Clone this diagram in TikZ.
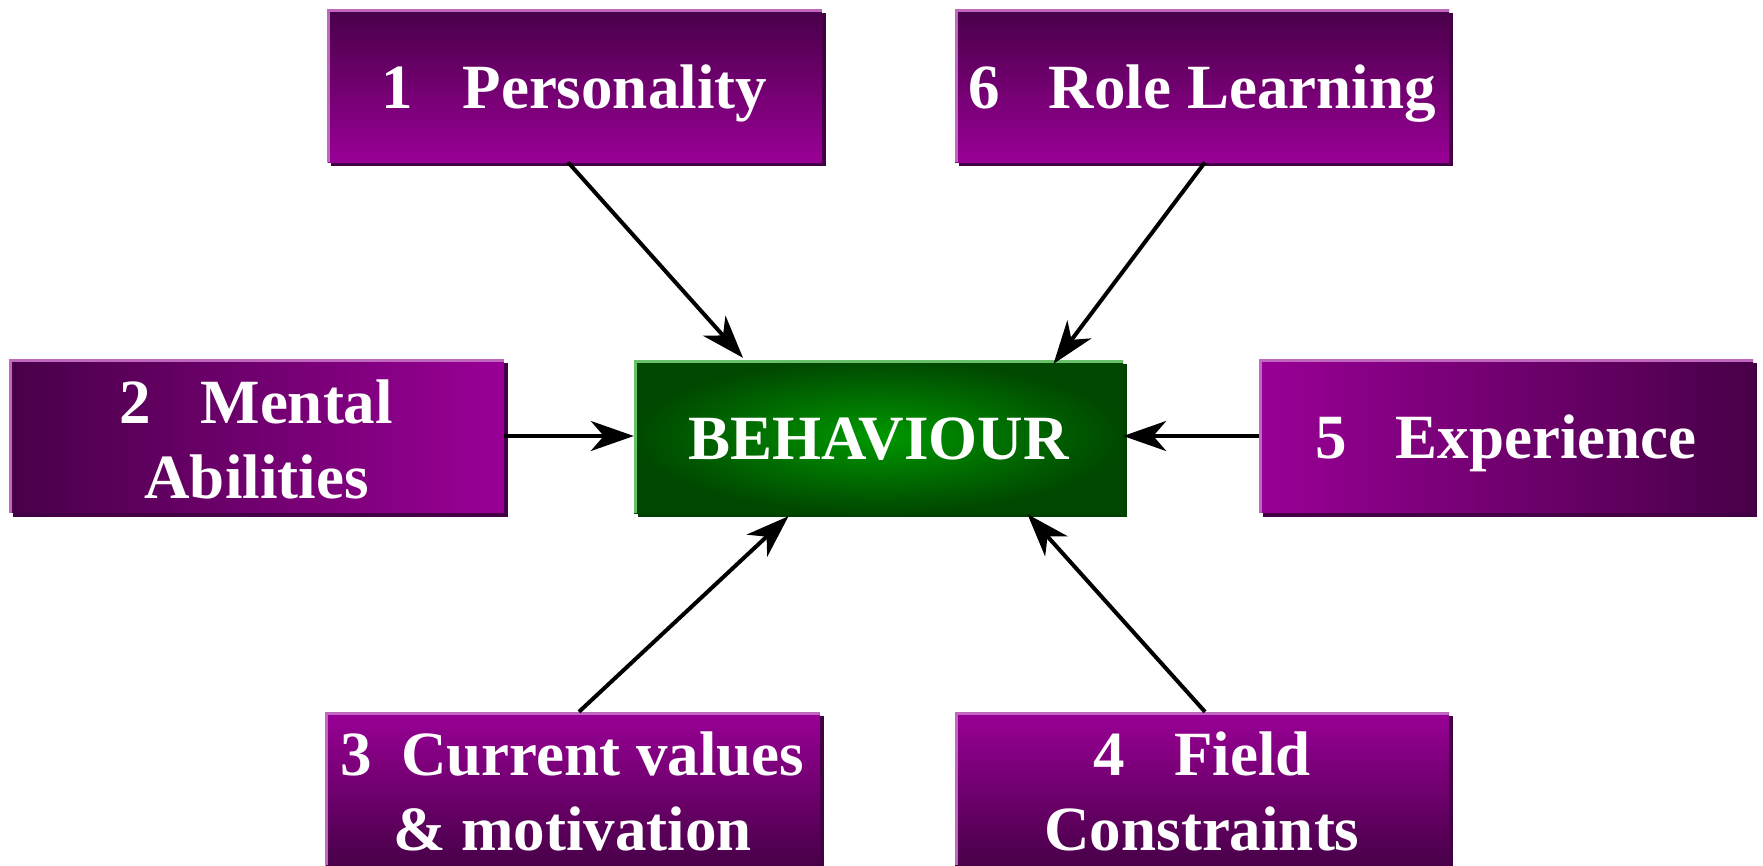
\documentclass[tikz,border=0pt]{standalone}
\usepackage{fontspec}
\setmainfont{Liberation Serif}
\usetikzlibrary{arrows.meta,backgrounds,calc}
\definecolor{pdark}{RGB}{72,0,72}
\definecolor{pbright}{RGB}{153,0,150}
\definecolor{plight}{RGB}{192,104,192}
\definecolor{pshadow}{RGB}{68,0,68}
\definecolor{gbright}{RGB}{0,152,0}
\definecolor{gdark}{RGB}{0,72,0}
\definecolor{glight}{RGB}{104,192,104}
\definecolor{gshadow}{RGB}{0,64,0}
\tikzset{
  boxbase/.style={rectangle, inner sep=0pt, minimum width=494pt, minimum height=153pt,
    text=white, align=center, font=\bfseries\fontsize{63}{75}\selectfont,
    text height=45pt, text depth=0pt},
  twoline/.style={text height=124pt, text depth=0pt},
  vtopdark/.style={boxbase, top color=pdark, bottom color=pbright},
  vtopbright/.style={boxbase, top color=pbright, bottom color=pdark},
  hleftdark/.style={boxbase, left color=pdark, right color=pbright},
  hleftbright/.style={boxbase, left color=pbright, right color=pdark},
  centrebox/.style={boxbase, minimum width=489pt, inner color=gbright, outer color=gdark},
  conn/.style={line width=4pt, -{Stealth[length=43pt,width=30pt,inset=13pt]}},
  edgelight/.style={line width=3pt},
}
\newcommand{\gapA}{\hspace{0.78em}}
\begin{document}
\begin{tikzpicture}[x=1pt,y=-1pt]
\useasboundingbox (0,0) rectangle (1763,865);
\node[vtopdark] (p1) at (574.5,85.5) {1\gapA Personality};
\node[vtopdark] (p6) at (1202,85.5) {6\gapA Role Learning};
\node[hleftdark, twoline] (p2) at (256.5,436) {2\gapA Mental\\Abilities};
\node[hleftbright] (p5) at (1506,436) {5\gapA Experience};
\node[centrebox] (beh) at (878.5,436.5) {BEHAVIOUR};
\node[vtopbright, twoline] (p3) at (572.5,788.5) {3\hspace{0.46em}Current values\\\& motivation};
\node[vtopbright, twoline] (p4) at (1202,788.5) {4\gapA Field\\Constraints};
\begin{scope}[on background layer]
  \foreach \n in {p1,p6,p2,p5,p3,p4}{
    \fill[pshadow] ([xshift=4pt,yshift=-4pt]\n.south west) rectangle ([xshift=4pt,yshift=-4pt]\n.north east);
  }
  \fill[gshadow] ([xshift=4pt,yshift=-4pt]beh.south west) rectangle ([xshift=4pt,yshift=-4pt]beh.north east);
\end{scope}
\foreach \n in {p1,p6,p2,p5,p3,p4}{
  \draw[edgelight, plight] ([xshift=1.5pt]\n.south west) -- ([xshift=1.5pt,yshift=-1.5pt]\n.north west) -- ([yshift=-1.5pt]\n.north east);
}
\draw[edgelight, glight] ([xshift=1.5pt]beh.south west) -- ([xshift=1.5pt,yshift=-1.5pt]beh.north west) -- ([yshift=-1.5pt]beh.north east);
% connectors
\draw[conn] ([xshift=-6.5pt]p1.south) -- ([xshift=-135.5pt,yshift=2pt]beh.north);
\draw[conn] ([xshift=3pt]p6.south) -- ([xshift=175pt,yshift=-4pt]beh.north);
\draw[conn] (p2.east) -- (p2.east -| beh.west);
\draw[conn] (p5.west) -- (p5.west -| beh.east);
\draw[conn] ([xshift=6.5pt]p3.north) -- ([xshift=-90pt,yshift=-3pt]beh.south);
\draw[conn] ([xshift=3pt]p4.north) -- ([xshift=149pt,yshift=-1pt]beh.south);
\end{tikzpicture}
\end{document}
